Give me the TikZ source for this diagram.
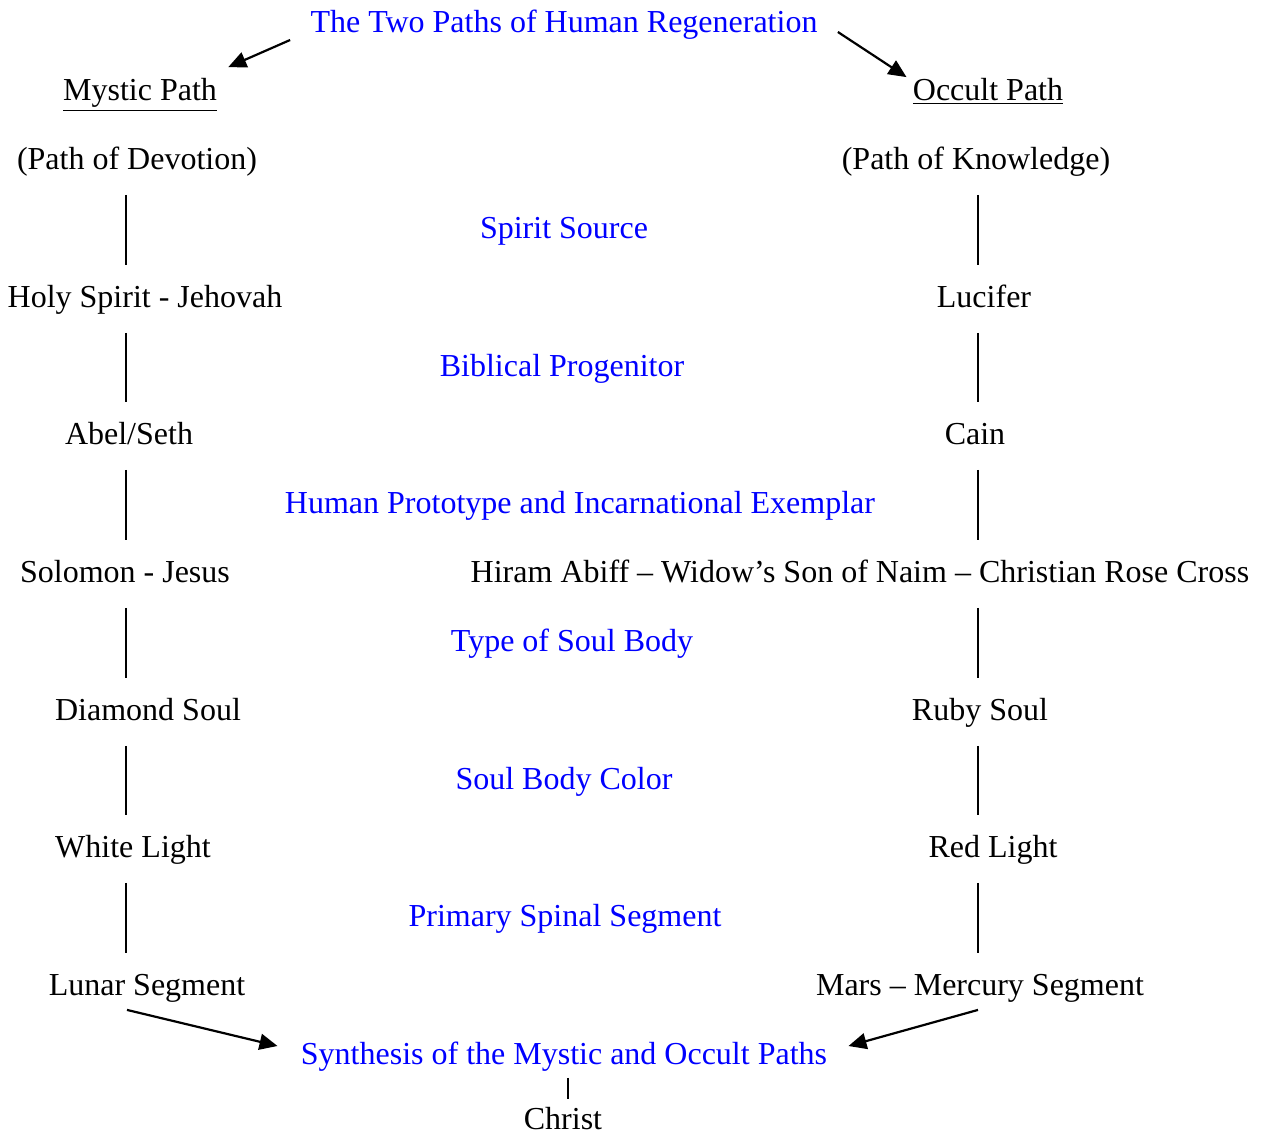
\documentclass[tikz,border=0pt]{standalone}
\usepackage{fontspec}
\setmainfont{Liberation Serif}
\usetikzlibrary{arrows.meta}
\definecolor{headblue}{RGB}{0,0,255}
\begin{document}
\begin{tikzpicture}[x=0.5pt,y=-0.5pt,
  every node/.style={inner sep=0pt,text height=11pt,text depth=3.5pt,
    font=\fontsize{16}{19}\selectfont},
  head/.style={text=headblue},
  link/.style={line width=0.7pt,shorten <=9pt,shorten >=10pt},
  pointer/.style={line width=1.1pt,-{Triangle[length=9pt,width=8pt]}}]

\useasboundingbox (0,0) rectangle (1267,1135);

% headings in blue
\node[head] (title) at (564,25) {The Two Paths of Human Regeneration};
\node[head] (spirit) at (564,231) {Spirit Source};
\node[head] (bible) at (562,369) {Biblical Progenitor};
\node[head] (proto) at (580,506) {Human Prototype and Incarnational Exemplar};
\node[head] (soulbody) at (572,644) {Type of Soul Body};
\node[head] (soulcolor) at (564,782) {Soul Body Color};
\node[head] (spinal) at (565,919) {Primary Spinal Segment};
\node[head] (synth) at (564,1057) {Synthesis of the Mystic and Occult Paths};
\node[text depth=0pt] (christ) at (563,1118) {Christ};

% mystic column
\node (mystic) at (140,93) {\underline{Mystic Path}};
\node (devotion) at (137,162) {(Path of Devotion)};
\node (holy) at (145,300) {Holy Spirit - Jehovah};
\node (abel) at (129,437) {Abel/Seth};
\node (solomon) at (125,575) {Solomon - Jesus};
\node (diamond) at (148,713) {Diamond Soul};
\node (white) at (133,850) {White Light};
\node (lunar) at (147,988) {Lunar Segment};

% occult column
\node (occult) at (988,93) {\underline{Occult Path}};
\node (knowledge) at (976,162) {(Path of Knowledge)};
\node (lucifer) at (984,300) {Lucifer};
\node (cain) at (975,437) {Cain};
\node (hiram) at (860,575) {Hiram Abiff – Widow’s Son of Naim – Christian Rose Cross};
\node (ruby) at (980,713) {Ruby Soul};
\node (red) at (993,850) {Red Light};
\node (mars) at (980,988) {Mars – Mercury Segment};

\coordinate (colL) at (126,0);
\coordinate (colR) at (978,0);

% vertical links
\foreach \a/\b in {devotion/holy,holy/abel,abel/solomon,solomon/diamond,diamond/white,white/lunar}
  \draw[link] (colL |- \a.south) -- (colL |- \b.north);
\foreach \a/\b in {knowledge/lucifer,lucifer/cain,cain/hiram,hiram/ruby,ruby/red,red/mars}
  \draw[link] (colR |- \a.south) -- (colR |- \b.north);
\draw[line width=0.7pt] ([shift={(4,6)}]synth.south) -- ([shift={(5,-8)}]christ.north);

% arrows
\draw[pointer] ([shift={(-20,15)}]title.west) -- ([shift={(11,-11)}]mystic.north east);
\draw[pointer] ([shift={(20,7)}]title.east) -- ([shift={(-6,-1)}]occult.north west);
\draw[pointer] ([shift={(-20,7)}]lunar.south) -- ([shift={(-23,-11)}]synth.west);
\draw[pointer] ([shift={(-2,7)}]mars.south) -- ([shift={(21,-11)}]synth.east);

\end{tikzpicture}
\end{document}
